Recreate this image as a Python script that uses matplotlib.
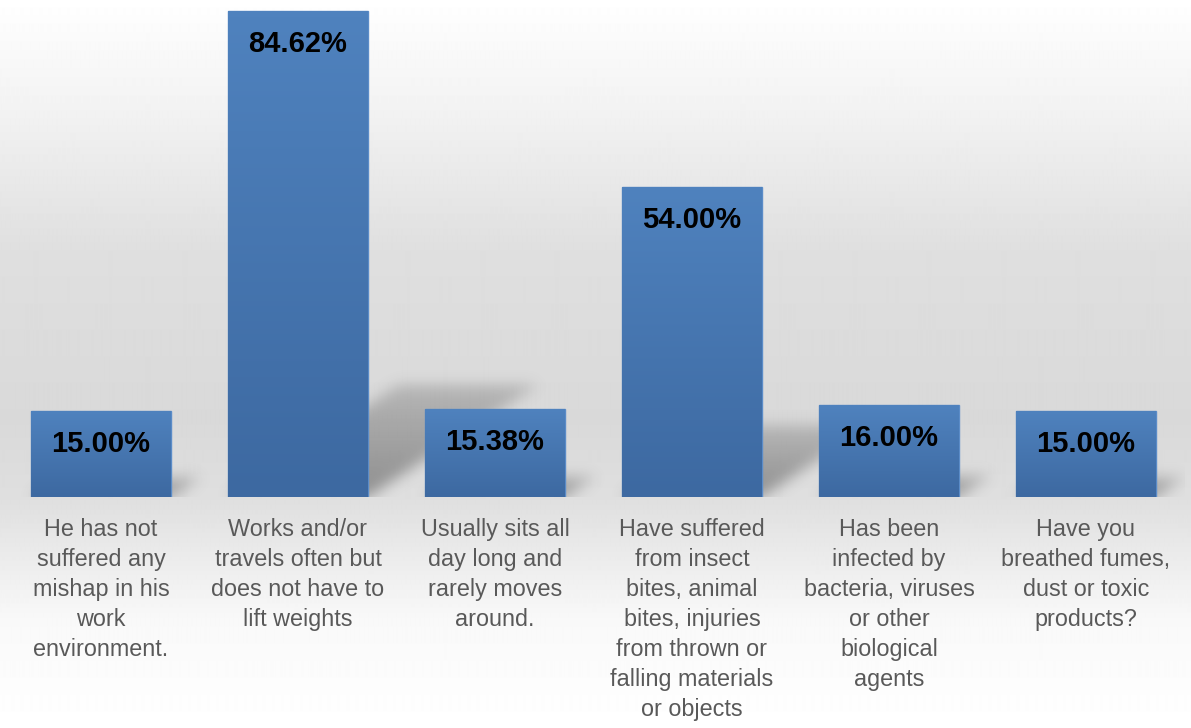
import matplotlib
matplotlib.use("Agg")
import matplotlib.pyplot as plt
import numpy as np
from matplotlib.colors import LinearSegmentedColormap

categories = [
    "He has not\nsuffered any\nmishap in his\nwork\nenvironment.",
    "Works and/or\ntravels often but\ndoes not have to\nlift weights",
    "Usually sits all\nday long and\nrarely moves\naround.",
    "Have suffered\nfrom insect\nbites, animal\nbites, injuries\nfrom thrown or\nfalling materials\nor objects",
    "Has been\ninfected by\nbacteria, viruses\nor other\nbiological\nagents",
    "Have you\nbreathed fumes,\ndust or toxic\nproducts?",
]
values = [15.00, 84.62, 15.38, 54.00, 16.00, 15.00]
value_labels = ["15.00%", "84.62%", "15.38%", "54.00%", "16.00%", "15.00%"]

plt.rcParams['font.family'] = ['Liberation Sans', 'DejaVu Sans']

W, H = 1191, 728
fig = plt.figure(figsize=(W / 100, H / 100), dpi=100)

# background gradient (white -> grey -> white)
bg = fig.add_axes([0, 0, 1, 1], zorder=0)
stops_y = [0, 20, 100, 250, 420, 500, 620, 728]
stops_v = [1.0, 0.99, 0.955, 0.875, 0.85, 0.875, 0.975, 1.0]
grad = np.interp(np.arange(H), stops_y, stops_v)
bg.imshow(np.repeat(grad[:, None], 4, axis=1), cmap='gray', vmin=0, vmax=1,
          aspect='auto', extent=[0, 1, 0, 1], interpolation='bilinear')
bg.axis('off')

ax_left = 2.5 / W
ax_bottom = 231 / H
ax = fig.add_axes([ax_left, ax_bottom, 1182 / W, 574.3 / H], zorder=1)
ax.patch.set_alpha(0)
ax.set_xlim(-0.5, 5.5)
ax.set_ylim(0, 100)
ax.axis('off')

x = np.arange(len(values))
bw = 0.71

# soft perspective shadows behind the bars
nx, ny = 1182, 574
gx = np.linspace(-0.5, 5.5, nx)
gy = np.linspace(100, 0, ny)
XX, YY = np.meshgrid(gx, gy)
shadow = np.zeros((ny, nx))
for xi, v in zip(x, values):
    top = 0.23 * v
    dx = 0.0102 * v
    t = np.clip(YY / top, 0, None)
    inside = (YY <= top) & (XX - t * dx >= xi - bw / 2) & (XX - t * dx <= xi + bw / 2)
    shadow = np.maximum(shadow, inside * (1 - 0.55 * t))
k = np.exp(-0.5 * (np.arange(-21, 22) / 7.0) ** 2)
k /= k.sum()
shadow = np.apply_along_axis(lambda r: np.convolve(r, k, mode='same'), 1, shadow)
shadow = np.apply_along_axis(lambda c: np.convolve(c, k, mode='same'), 0, shadow)
rgba = np.zeros((ny, nx, 4))
rgba[..., :3] = 0.3
rgba[..., 3] = 0.55 * shadow
ax.imshow(rgba, extent=[-0.5, 5.5, 0, 100], aspect='auto', zorder=1,
          interpolation='bilinear')

bars = ax.bar(x, values, width=bw, color='#4677b3', edgecolor='#5b8cc8',
              linewidth=1, zorder=2)

bar_cmap = LinearSegmentedColormap.from_list('bar', ['#3d69a1', '#4f82be'])
for b in bars:
    bx, by = b.get_x(), b.get_y()
    im = ax.imshow(np.linspace(0, 1, 64)[:, None][::-1], cmap=bar_cmap,
                   extent=[bx, bx + b.get_width(), by, by + b.get_height()],
                   aspect='auto', zorder=3, interpolation='bilinear')
    im.set_clip_path(b)

ax.set_xlim(-0.5, 5.5)
ax.set_ylim(0, 100)

for xi, v, lab in zip(x, values, value_labels):
    ax.annotate(lab, (xi, v), xytext=(0, -33), textcoords='offset pixels',
                ha='center', va='center', fontsize=21, fontweight='bold',
                color='black', zorder=4)

for xi, cat in zip(x, categories):
    ax.annotate(cat, (xi, 0), xytext=(0, -21), textcoords='offset pixels',
                ha='center', va='top', fontsize=16.8, color='#595959',
                linespacing=1.39, annotation_clip=False, zorder=4)

fig.savefig('out.png', dpi=100)
